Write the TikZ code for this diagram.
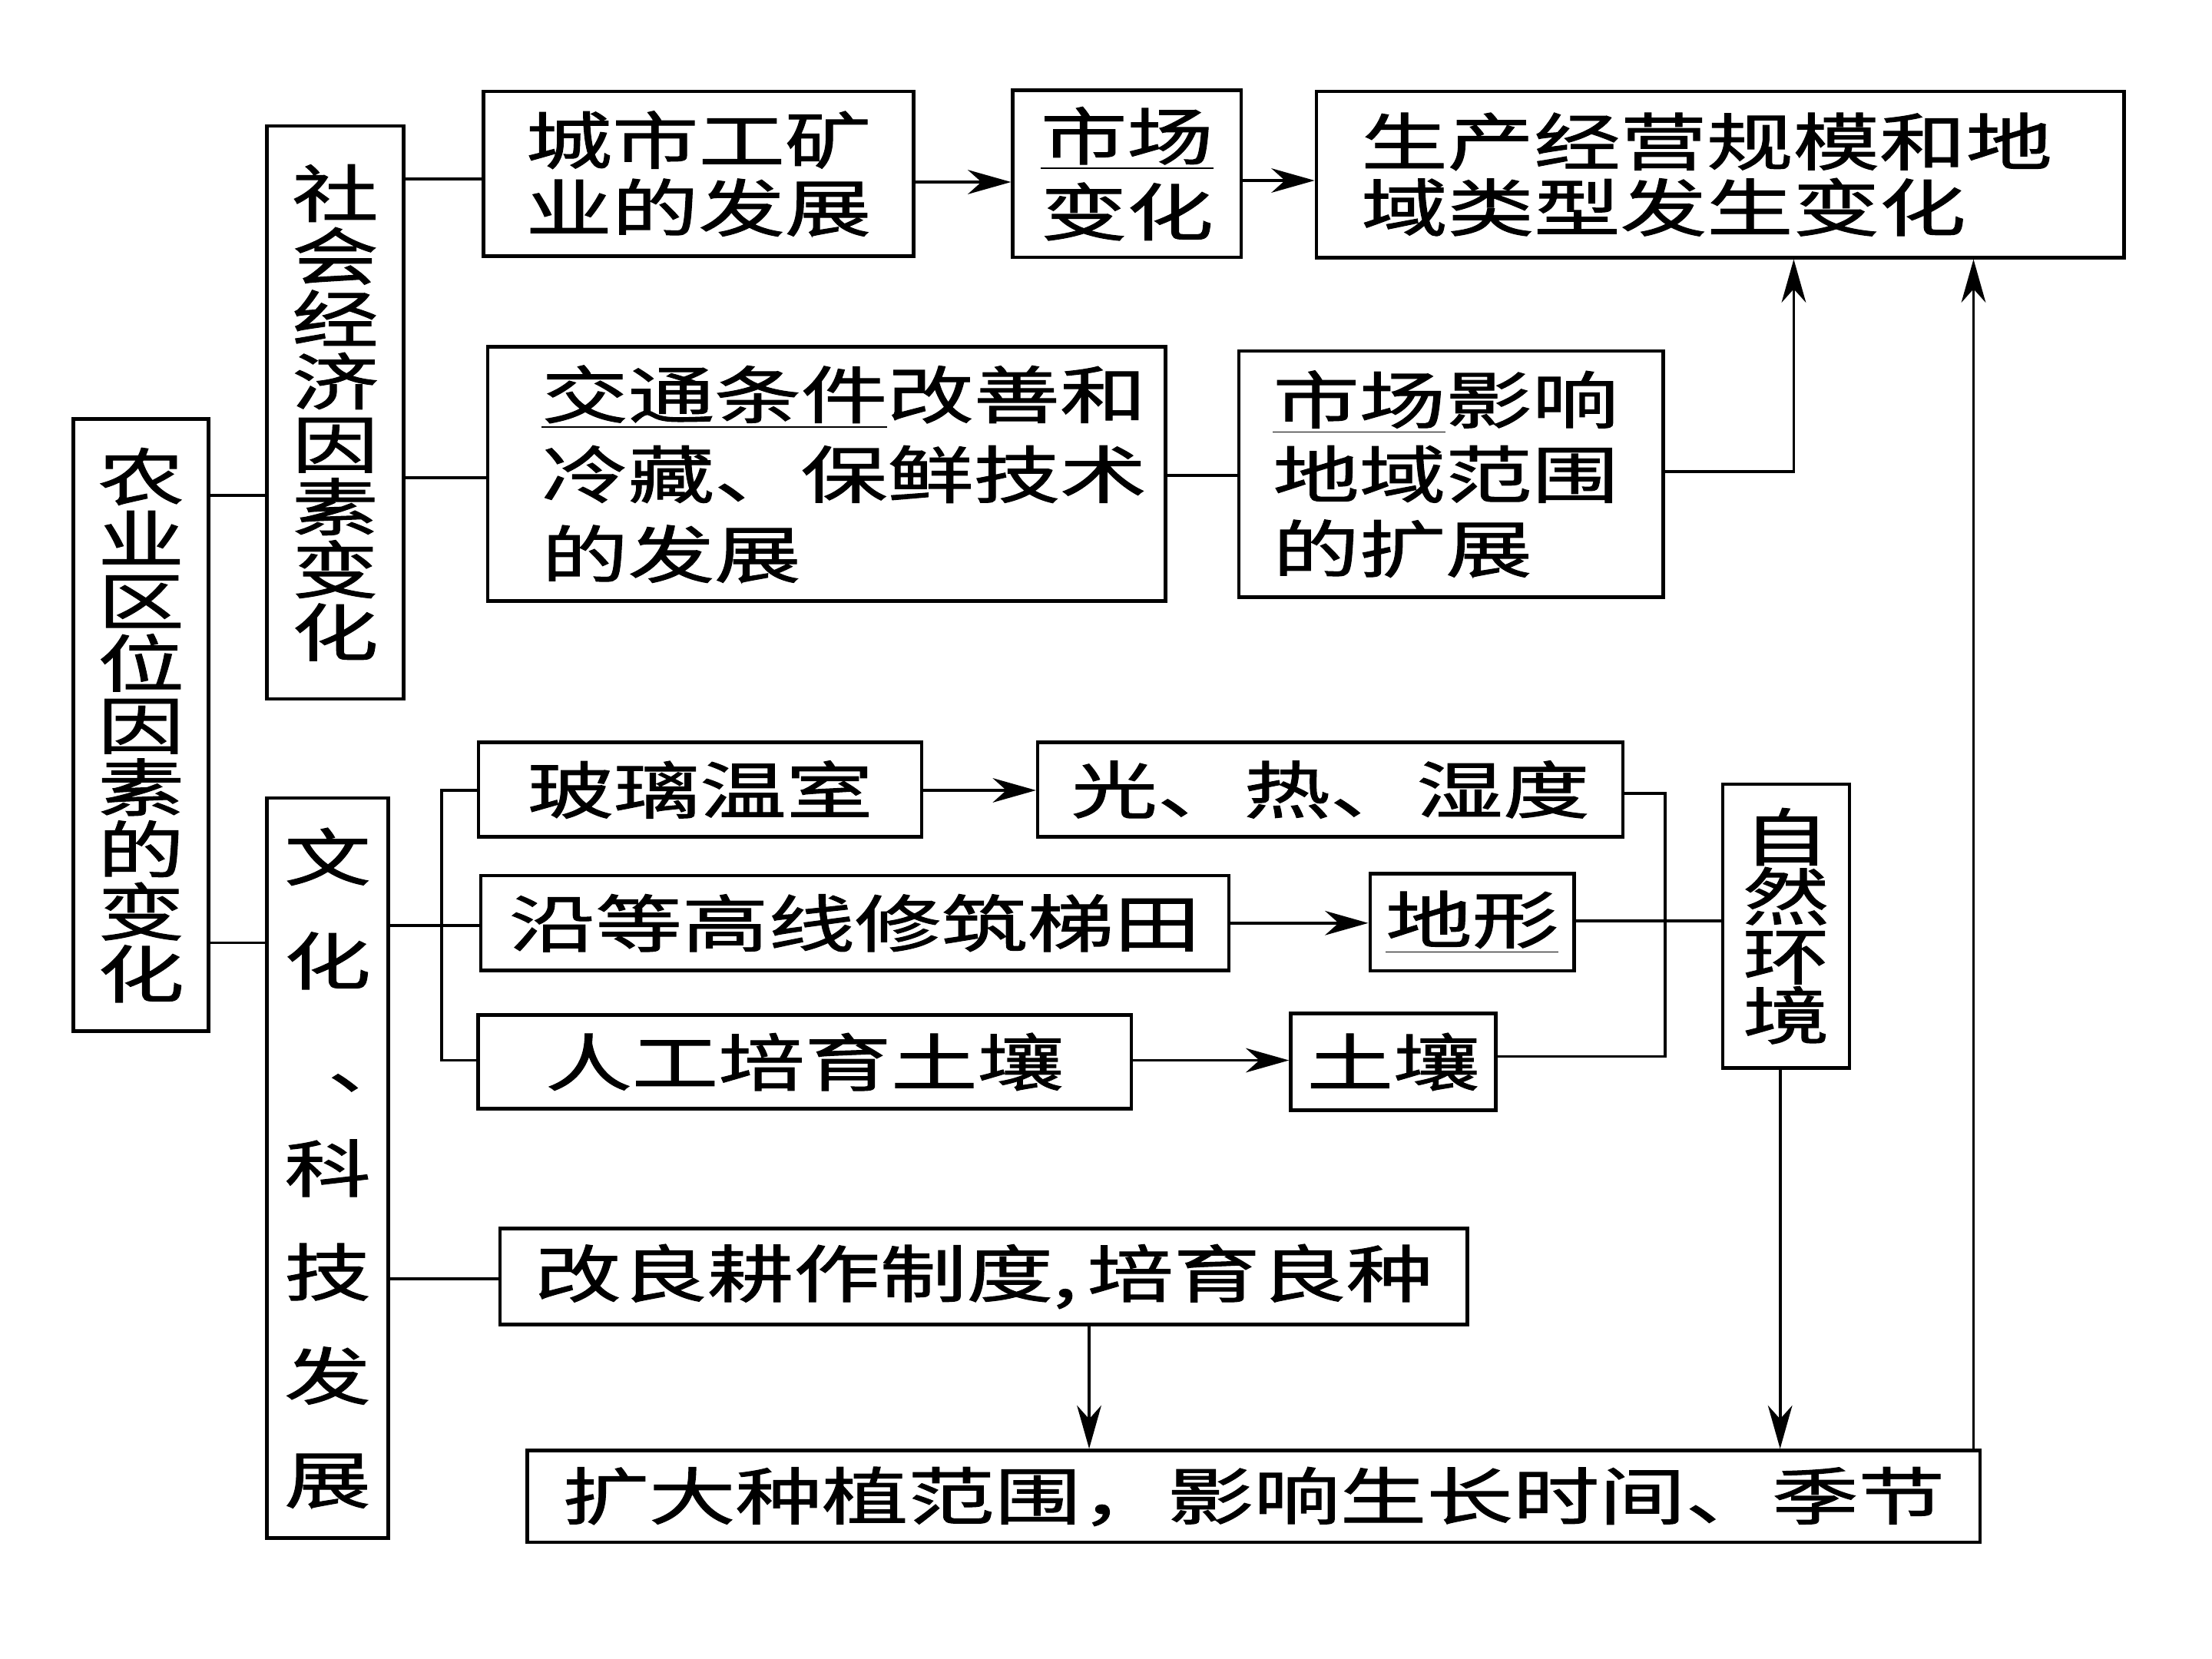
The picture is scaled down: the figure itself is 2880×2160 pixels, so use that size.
\documentclass[tikz,border=0pt]{standalone}
\usepackage{fontspec}
\newfontfamily\cjk[FakeStretch=1.39,FakeBold=1.4]{Noto Sans CJK SC}
\usetikzlibrary{arrows.meta}
\newcommand\setF[1]{\cjk\fontsize{23.3pt}{#1}\selectfont}
\begin{document}
\begin{tikzpicture}[x=0.01cm,y=-0.01cm,
  box/.style={draw, line width=1.3pt, inner sep=0pt, align=center},
  lbox/.style={draw, line width=1.3pt, inner sep=0pt, align=left},
  ln/.style={line width=1.1pt},
  arr/.style={line width=1.1pt, -{Stealth[length=16pt,width=9pt,inset=5pt]}}]
\fill[white] (0,0) rectangle (2880,2160);
\useasboundingbox (0,0) rectangle (2880,2160);
\begin{scope}[scale=0.9875, transform shape]
% vertical boxes
\node[box, minimum width=1.78cm, minimum height=8.07cm, font=\setF{23.3pt}] (nong) at (186,956) {农\\业\\区\\位\\因\\素\\的\\变\\化};
\node[box, minimum width=1.80cm, minimum height=7.55cm, font=\setF{23.5pt}] (soc) at (442,544) {社\\会\\经\\济\\因\\素\\变\\化};
\node[box, minimum width=1.60cm, minimum height=9.75cm, font=\setF{38.9pt}] (wen) at (432,1540) {文\\化\\\rlap{\hspace*{0.7em}、}\phantom{、}\\科\\技\\发\\展};
\node[box, minimum width=1.67cm, minimum height=3.74cm, font=\setF{22.3pt}] (nat) at (2355,1221) {自\\然\\环\\境};

% top row
\node[box, minimum width=5.67cm, minimum height=2.17cm, font=\setF{25.3pt}] (city) at (921,229) {城市工矿\\业的发展};
\node[box, minimum width=3.01cm, minimum height=2.20cm, font=\setF{28.4pt}] (mkt) at (1486,229) {\underline{市场}\\变化};
\node[lbox, text width=10.64cm, minimum height=2.19cm, font=\setF{24.7pt}] (prod) at (2268,230) {\hspace*{0.59cm}生产经营规模和地\\\hspace*{0.59cm}域类型发生变化};

% second row
\node[lbox, text width=8.93cm, minimum height=3.35cm, font=\setF{29.9pt}] (traf) at (1090,625) {\hspace*{0.71cm}\underline{交通条件}改善和\\\hspace*{0.71cm}冷藏、保鲜技术\\\hspace*{0.71cm}的发展};
\node[lbox, text width=5.59cm, minimum height=3.24cm, font=\setF{27.9pt}] (mkt2) at (1913,625) {\hspace*{0.45cm}\underline{市场}影响\\\hspace*{0.45cm}地域范围\\\hspace*{0.45cm}的扩展};

% middle rows
\node[box, minimum width=5.84cm, minimum height=1.24cm, font=\setF{25pt}] (glass) at (923,1041) {玻璃温室};
\node[box, minimum width=7.71cm, minimum height=1.24cm, font=\setF{25pt}] (light) at (1754,1041) {光、热、湿度};
\node[box, minimum width=9.86cm, minimum height=1.25cm, font=\setF{25pt}] (terr) at (1127,1217) {沿等高线修筑梯田};
\node[box, minimum width=2.69cm, minimum height=1.28cm, font=\setF{25pt}] (land) at (1941,1216) {\underline{地形}};
\node[box, minimum width=8.61cm, minimum height=1.23cm, font=\setF{25pt}] (soil1) at (1061,1400) {人工培育土壤};
\node[box, minimum width=2.70cm, minimum height=1.28cm, font=\setF{25pt}] (soil2) at (1837,1400) {土壤};

% bottom
\node[box, minimum width=12.75cm, minimum height=1.27cm, font=\setF{25pt}] (impr) at (1297,1683) {改良耕作制度,\,培育良种};
\node[box, minimum width=19.14cm, minimum height=1.21cm, font=\setF{25pt}] (exp) at (1653,1973) {扩大种植范围，影响生长时间、季节};

% connectors
\draw[ln] (nong.east |- 0,653) -- (soc.west |- 0,653);
\draw[ln] (nong.east |- 0,1243) -- (wen.west |- 0,1243);
\draw[ln] (soc.east |- 0,236) -- (city.west |- 0,236);
\draw[ln] (soc.east |- 0,630) -- (traf.west |- 0,630);
\draw[arr] (city.east |- 0,240) -- (mkt.west |- 0,240);
\draw[arr] (mkt.east |- 0,238) -- (prod.west |- 0,238);
\draw[ln] (traf.east |- 0,627) -- (mkt2.west |- 0,627);
\draw[arr] (mkt2.east |- 0,622) -| (prod.south -| 2365,0);
\draw[ln] (wen.east |- 0,1220) -- (terr.west |- 0,1220);
\coordinate (bt) at (582,1042);
\coordinate (bb) at (582,1398);
\draw[ln] (glass.west |- bt) -- (bt) -- (bb) -- (soil1.west |- bb);
\draw[arr] (glass.east |- 0,1042) -- (light.west |- 0,1042);
\draw[arr] (terr.east |- 0,1217) -- (land.west |- 0,1217);
\draw[arr] (soil1.east |- 0,1398) -- (soil2.west |- 0,1398);
\coordinate (rt) at (2196,1046);
\coordinate (rb) at (2196,1393);
\draw[ln] (light.east |- rt) -- (rt) -- (rb) -- (soil2.east |- rb);
\draw[ln] (land.east |- 0,1214) -- (nat.west |- 0,1214);
\draw[arr] (nat.south -| 2347,0) -- (exp.north -| 2347,0);
\draw[arr] (impr.south -| 1436,0) -- (exp.north -| 1436,0);
\draw[ln] (wen.east |- 0,1686) -- (impr.west |- 0,1686);
\draw[arr] (exp.north -| 2602,0) -- (prod.south -| 2602,0);
\end{scope}
\end{tikzpicture}
\end{document}
